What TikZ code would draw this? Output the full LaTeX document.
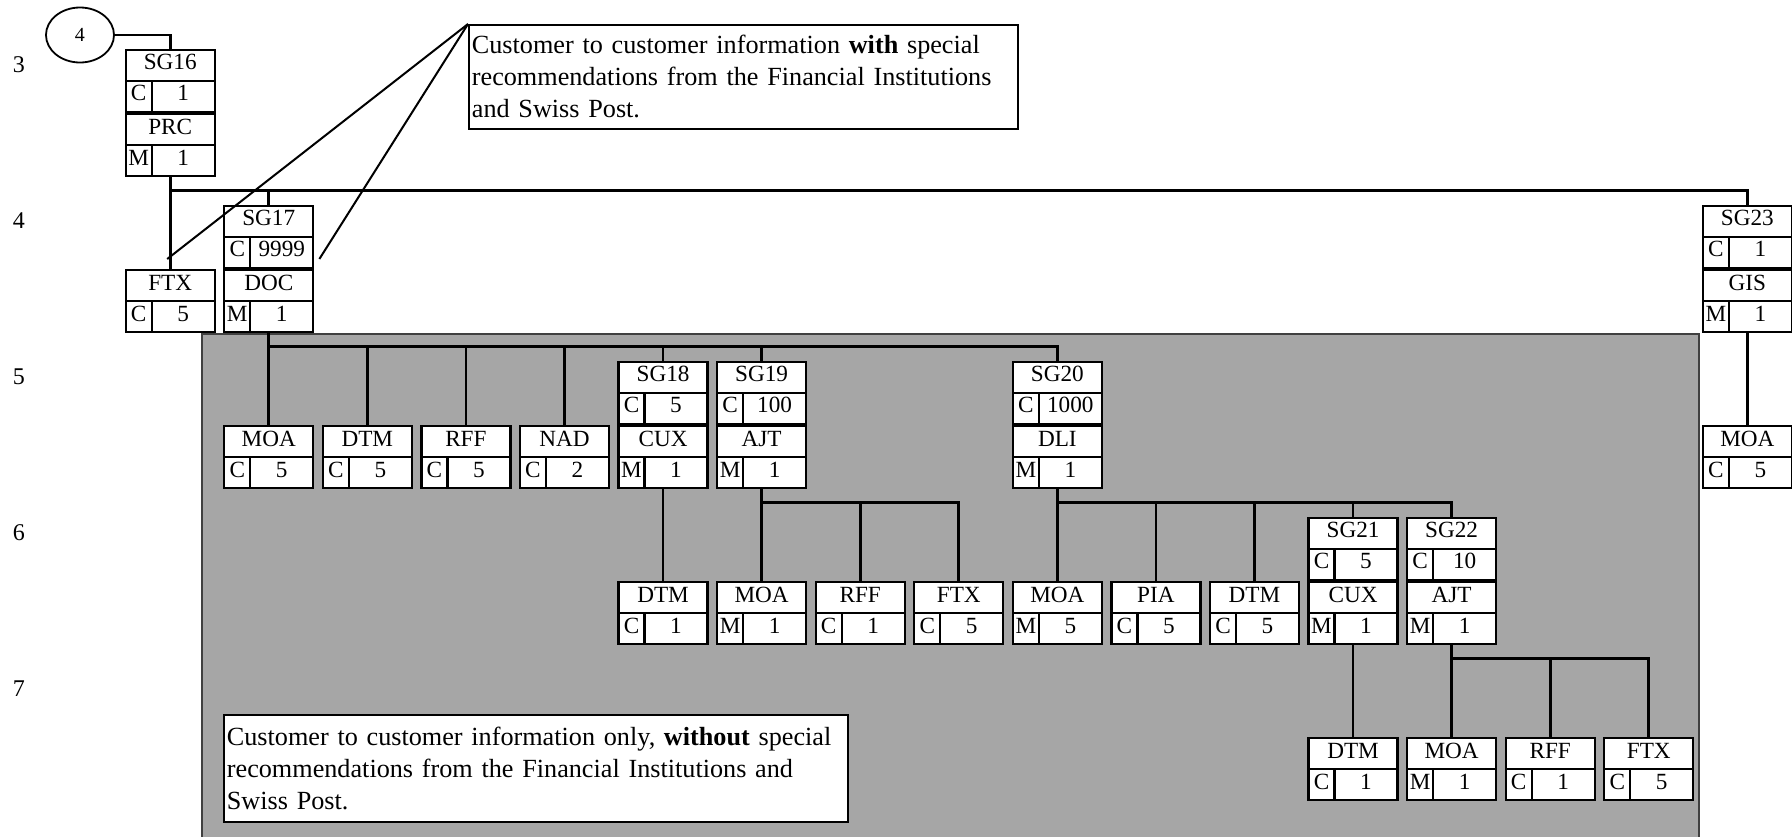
\documentclass[tikz,border=0pt]{standalone}
\usepackage{fontspec}
\setmainfont{Liberation Serif}
\usetikzlibrary{shapes.geometric, shapes.multipart, positioning, calc, backgrounds}

\newcommand{\segstrut}{\rule[-3.5pt]{0pt}{11.5pt}}
\newcommand{\segrow}[2]{\segstrut\makebox[13pt]{#1}\makebox[31.5pt]{#2}}

\begin{document}
\begin{tikzpicture}[
        x=49.285pt, y=-78pt,
        seg/.style={rectangle split, rectangle split parts=2, draw=black, line width=1.1pt, fill=white,
            anchor=north west, minimum width=44.5pt, inner xsep=0pt, inner ysep=1.45pt,
            execute at begin node=\segstrut, font=\fontsize{11.6}{13}\selectfont,
            path picture={\draw[line width=1.1pt] ([xshift=13pt]path picture bounding box.south west) -- ++(0pt,15.5pt);}},
        note/.style={rectangle, draw=black, line width=0.9pt, fill=white, anchor=north west, align=left,
            inner xsep=1.5pt, font=\fontsize{13.1}{16}\selectfont},
        lvl/.style={font=\fontsize{12}{14}\selectfont},
        line/.style={draw, line width=1.4pt},
        pointer/.style={draw, line width=1pt}
    ]
        \useasboundingbox (-62.3pt,56.5pt) rectangle (833.7pt,-361.5pt);

        % shaded part of the branch
        \filldraw[fill=black!35, draw=black!75, line width=0.6pt] (38.7pt,-110.5pt) rectangle (787.2pt,-365pt);

        % level numbers
        \node[lvl] (lv3) at (-52.8pt,24pt) {3};
        \node[lvl] (lv4) at (-52.8pt,-54pt) {4};
        \node[lvl] (lv5) at (-52.8pt,-132pt) {5};
        \node[lvl] (lv6) at (-52.8pt,-210pt) {6};
        \node[lvl] (lv7) at (-52.8pt,-288pt) {7};

        \node[ellipse, draw=black, line width=0.9pt, minimum width=34pt, minimum height=27.5pt, font=\fontsize{10}{12}\selectfont] (ref4) at (-22.3pt,39pt) {4};

        % level 3
        \node[seg] (prc) at (0,0) {PRC\nodepart{two}\segrow{M}{1}};
        \node[seg, above=0pt of prc] (g16) {SG16\nodepart{two}\segrow{C}{1}};

        % level 4
        \node[seg] (ftx0) at (0,1) {FTX\nodepart{two}\segrow{C}{5}};
        \node[seg] (doc) at (1,1) {DOC\nodepart{two}\segrow{M}{1}};
        \node[seg, above=0pt of doc] (g17) {SG17\nodepart{two}\segrow{C}{9999}};
        \node[seg] (gis) at (16,1) {GIS\nodepart{two}\segrow{M}{1}};
        \node[seg, above=0pt of gis] (g23) {SG23\nodepart{two}\segrow{C}{1}};

        % level 5
        \node[seg] (moa1) at (1,2) {MOA\nodepart{two}\segrow{C}{5}};
        \node[seg] (dtm1) at (2,2) {DTM\nodepart{two}\segrow{C}{5}};
        \node[seg] (rff1) at (3,2) {RFF\nodepart{two}\segrow{C}{5}};
        \node[seg] (nad) at (4,2) {NAD\nodepart{two}\segrow{C}{2}};
        \node[seg] (cux1) at (5,2) {CUX\nodepart{two}\segrow{M}{1}};
        \node[seg, above=0pt of cux1] (g18) {SG18\nodepart{two}\segrow{C}{5}};
        \node[seg] (ajt1) at (6,2) {AJT\nodepart{two}\segrow{M}{1}};
        \node[seg, above=0pt of ajt1] (g19) {SG19\nodepart{two}\segrow{C}{100}};
        \node[seg] (dli) at (9,2) {DLI\nodepart{two}\segrow{M}{1}};
        \node[seg, above=0pt of dli] (g20) {SG20\nodepart{two}\segrow{C}{1000}};
        \node[seg] (moa5) at (16,2) {MOA\nodepart{two}\segrow{C}{5}};

        % level 6
        \node[seg] (dtm2) at (5,3) {DTM\nodepart{two}\segrow{C}{1}};
        \node[seg] (moa2) at (6,3) {MOA\nodepart{two}\segrow{M}{1}};
        \node[seg] (rff2) at (7,3) {RFF\nodepart{two}\segrow{C}{1}};
        \node[seg] (ftx2) at (8,3) {FTX\nodepart{two}\segrow{C}{5}};
        \node[seg] (moa3) at (9,3) {MOA\nodepart{two}\segrow{M}{5}};
        \node[seg] (pia) at (10,3) {PIA\nodepart{two}\segrow{C}{5}};
        \node[seg] (dtm3) at (11,3) {DTM\nodepart{two}\segrow{C}{5}};
        \node[seg] (cux2) at (12,3) {CUX\nodepart{two}\segrow{M}{1}};
        \node[seg, above=0pt of cux2] (g21) {SG21\nodepart{two}\segrow{C}{5}};
        \node[seg] (ajt2) at (13,3) {AJT\nodepart{two}\segrow{M}{1}};
        \node[seg, above=0pt of ajt2] (g22) {SG22\nodepart{two}\segrow{C}{10}};

        % level 7
        \node[seg] (dtm4) at (12,4) {DTM\nodepart{two}\segrow{C}{1}};
        \node[seg] (moa4) at (13,4) {MOA\nodepart{two}\segrow{M}{1}};
        \node[seg] (rff3) at (14,4) {RFF\nodepart{two}\segrow{C}{1}};
        \node[seg] (ftx3) at (15,4) {FTX\nodepart{two}\segrow{C}{5}};

        % notes
        \node[note, text width=271.5pt, minimum height=52pt] (withnote) at (171.7pt,44.5pt) {Customer to customer information \textbf{with} special\\recommendations from the Financial Institutions\\and Swiss Post.};
        \node[note, text width=309pt, minimum height=53.5pt] (withoutnote) at (49.2pt,-300.5pt) {Customer to customer information only, \textbf{without} special\\recommendations from the Financial Institutions and\\Swiss Post.};

        % branch lines
        \coordinate (bus3) at ([yshift=-6.5pt]prc.south);
        \coordinate (bus4) at ([yshift=-6.5pt]doc.south);
        \coordinate (bus5a) at ([yshift=-6.5pt]ajt1.south);
        \coordinate (bus5b) at ([yshift=-6.5pt]dli.south);
        \coordinate (bus6) at ([yshift=-6.5pt]ajt2.south);

        \draw[line] (ref4.east) -| (g16.north);
        \draw[line] (prc.south) -- (ftx0.north);
        \draw[line] (bus3) -| (g17.north);
        \draw[line] (bus3) -| (g23.north);
        \draw[line] (gis.south) -- (moa5.north);
        \draw[line] (doc.south) -- (moa1.north);
        \draw[line] (bus4) -| (dtm1.north);
        \draw[line] (bus4) -| (rff1.north);
        \draw[line] (bus4) -| (nad.north);
        \draw[line] (bus4) -| (g18.north);
        \draw[line] (bus4) -| (g19.north);
        \draw[line] (bus4) -| (g20.north);
        \draw[line] (cux1.south) -- (dtm2.north);
        \draw[line] (ajt1.south) -- (moa2.north);
        \draw[line] (bus5a) -| (rff2.north);
        \draw[line] (bus5a) -| (ftx2.north);
        \draw[line] (dli.south) -- (moa3.north);
        \draw[line] (bus5b) -| (pia.north);
        \draw[line] (bus5b) -| (dtm3.north);
        \draw[line] (bus5b) -| (g21.north);
        \draw[line] (bus5b) -| (g22.north);
        \draw[line] (cux2.south) -- (dtm4.north);
        \draw[line] (ajt2.south) -- (moa4.north);
        \draw[line] (bus6) -| (rff3.north);
        \draw[line] (bus6) -| (ftx3.north);

        % note pointers
        \coordinate (tipa) at ([shift={(-1.5pt,5pt)}]ftx0.north);
        \coordinate (tipb) at ([shift={(2.5pt,5pt)}]g17.south east);
        \draw[pointer] (withnote.north west) -- (tipa);
        \draw[pointer] (withnote.north west) -- (tipb);

    \end{tikzpicture}
\end{document}
